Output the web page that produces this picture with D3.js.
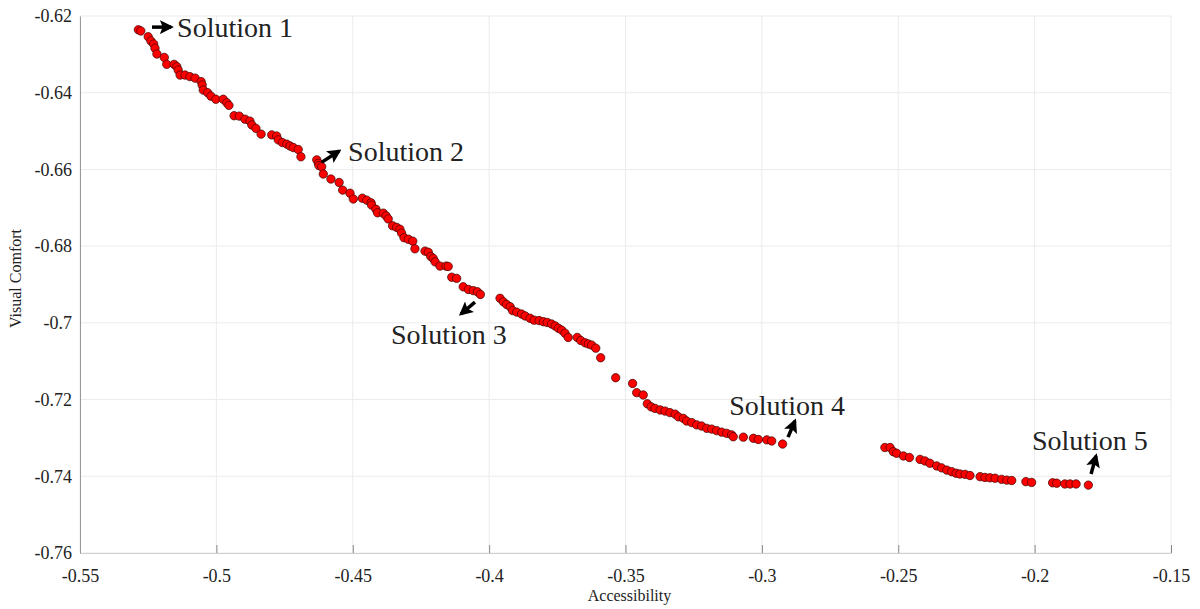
<!DOCTYPE html>
<html>
<head>
<meta charset="utf-8">
<script src="https://cdn.jsdelivr.net/npm/d3@7"></script>
<style>
  body { margin: 0; background: #fff; }
  text { font-family: "Liberation Serif", "Times New Roman", serif; fill: #222; }
</style>
</head>
<body>
<svg id="chart" width="1200" height="609"></svg>
<script>
// pareto front: accessibility (x) vs visual comfort (y)
var accessibility = [
  -0.5286,-0.5277,-0.5250,-0.5240,-0.5230,-0.5225,-0.5218,-0.5191,-0.5182,-0.5155,
  -0.5145,-0.5140,-0.5133,-0.5115,-0.5097,-0.5078,-0.5056,-0.5052,-0.5048,-0.5032,
  -0.5020,-0.5002,-0.4975,-0.4962,-0.4954,-0.4935,-0.4916,-0.4895,-0.4877,-0.4870,
  -0.4855,-0.4836,-0.4797,-0.4779,-0.4773,-0.4758,-0.4742,-0.4730,-0.4718,-0.4700,
  -0.4690,
  -0.4632,-0.4626,-0.4624,-0.4614,-0.4608,-0.4580,-0.4550,-0.4537,-0.4510,-0.4498,
  -0.4465,-0.4449,-0.4433,-0.4431,-0.4415,-0.4409,-0.4388,-0.4378,-0.4370,-0.4354,
  -0.4339,-0.4327,-0.4321,-0.4312,-0.4296,-0.4280,-0.4272,-0.4235,-0.4223,-0.4214,
  -0.4205,-0.4198,-0.4180,-0.4158,-0.4150,-0.4137,-0.4119,-0.4095,-0.4076,-0.4058,
  -0.4043,-0.4032,
  -0.3960,-0.3948,-0.3936,-0.3923,-0.3914,-0.3899,-0.3881,-0.3868,-0.3850,-0.3835,
  -0.3817,-0.3801,-0.3787,-0.3771,-0.3758,-0.3746,-0.3734,-0.3722,-0.3710,-0.3677,
  -0.3664,-0.3648,-0.3636,-0.3624,-0.3609,-0.3591,
  -0.3536,-0.3474,-0.3459,-0.3435,-0.3420,-0.3406,-0.3392,-0.3373,-0.3355,-0.3337,
  -0.3318,-0.3306,-0.3288,-0.3276,-0.3257,-0.3239,-0.3221,-0.3202,-0.3184,-0.3166,
  -0.3147,-0.3129,-0.3111,-0.3105,-0.3068,-0.3031,-0.3013,-0.2982,-0.2964,-0.2924,
  -0.2549,-0.2530,-0.2518,-0.2506,-0.2481,-0.2459,-0.2420,-0.2402,-0.2384,-0.2359,
  -0.2341,-0.2322,-0.2304,-0.2288,-0.2274,-0.2255,-0.2237,-0.2200,-0.2182,-0.2164,
  -0.2145,-0.2121,-0.2102,-0.2084,-0.2032,-0.2011,-0.1934,-0.1919,-0.1889,-0.1870,
  -0.1848,-0.1803
];
var visualComfort = [
  -0.6236,-0.6239,-0.6254,-0.6265,-0.6273,-0.6284,-0.6299,-0.6308,-0.6326,-0.6326,
  -0.6332,-0.6341,-0.6354,-0.6354,-0.6358,-0.6362,-0.6371,-0.6380,-0.6393,-0.6400,
  -0.6409,-0.6417,-0.6417,-0.6426,-0.6433,-0.6460,-0.6461,-0.6469,-0.6474,-0.6484,
  -0.6493,-0.6508,-0.6510,-0.6513,-0.6523,-0.6530,-0.6534,-0.6539,-0.6543,-0.6548,
  -0.6567,
  -0.6575,-0.6584,-0.6590,-0.6593,-0.6612,-0.6625,-0.6634,-0.6654,-0.6662,-0.6677,
  -0.6675,-0.6680,-0.6687,-0.6693,-0.6704,-0.6713,-0.6714,-0.6721,-0.6729,-0.6747,
  -0.6751,-0.6756,-0.6766,-0.6778,-0.6782,-0.6787,-0.6807,-0.6813,-0.6816,-0.6827,
  -0.6832,-0.6841,-0.6852,-0.6852,-0.6853,-0.6881,-0.6884,-0.6906,-0.6913,-0.6916,
  -0.6919,-0.6926,
  -0.6936,-0.6945,-0.6952,-0.6958,-0.6968,-0.6972,-0.6977,-0.6982,-0.6988,-0.6993,
  -0.6994,-0.6997,-0.6999,-0.7003,-0.7008,-0.7014,-0.7019,-0.7027,-0.7038,-0.7038,
  -0.7046,-0.7052,-0.7055,-0.7058,-0.7066,-0.7091,
  -0.7143,-0.7158,-0.7182,-0.7188,-0.7211,-0.7219,-0.7223,-0.7227,-0.7230,-0.7234,
  -0.7238,-0.7245,-0.7249,-0.7256,-0.7260,-0.7266,-0.7269,-0.7275,-0.7277,-0.7281,
  -0.7285,-0.7288,-0.7292,-0.7297,-0.7298,-0.7301,-0.7304,-0.7305,-0.7308,-0.7316,
  -0.7325,-0.7325,-0.7336,-0.7340,-0.7347,-0.7351,-0.7356,-0.7360,-0.7366,-0.7373,
  -0.7378,-0.7384,-0.7388,-0.7392,-0.7394,-0.7395,-0.7398,-0.7401,-0.7403,-0.7404,
  -0.7405,-0.7408,-0.7410,-0.7411,-0.7414,-0.7416,-0.7417,-0.7418,-0.7420,-0.7420,
  -0.7420,-0.7423
];

var xTicks = [-0.55, -0.5, -0.45, -0.4, -0.35, -0.3, -0.25, -0.2, -0.15];
var yTicks = [-0.62, -0.64, -0.66, -0.68, -0.7, -0.72, -0.74, -0.76];

// annotations: label, arrow tail, arrow head, text anchor (all in data units)
var solutionLabels = ["Solution 1", "Solution 2", "Solution 3", "Solution 4", "Solution 5"];
var arrowFrom = [[-0.5236,-0.6229],[-0.4613,-0.6581],[-0.4052,-0.6946],[-0.2904,-0.7298],[-0.1793,-0.7394]];
var arrowTo   = [[-0.5166,-0.6229],[-0.4550,-0.6552],[-0.4103,-0.6977],[-0.2879,-0.7256],[-0.1775,-0.7347]];
var labelAt   = [[-0.5144,-0.6255],[-0.4517,-0.6578],[-0.4360,-0.7055],[-0.3120,-0.7240],[-0.2010,-0.7331]];

var margin = {top: 16, right: 29, bottom: 56, left: 80};
var svg = d3.select("#chart");
var width = 1200 - margin.left - margin.right;
var height = 609 - margin.top - margin.bottom;

var x = d3.scaleLinear().domain([-0.55, -0.15]).range([0, width]);
var y = d3.scaleLinear().domain([-0.76, -0.62]).range([height, 0]);

var fmt = function(d) { return String(+d.toFixed(2)); };

var g = svg.append("g").attr("transform", "translate(" + margin.left + "," + margin.top + ")");

// grid
g.append("g").selectAll("line").data(xTicks).enter().append("line")
  .attr("x1", function(d) { return x(d); }).attr("x2", function(d) { return x(d); })
  .attr("y1", 0).attr("y2", height)
  .attr("stroke", "#ebebeb").attr("stroke-width", 1);
g.append("g").selectAll("line").data(yTicks).enter().append("line")
  .attr("y1", function(d) { return y(d); }).attr("y2", function(d) { return y(d); })
  .attr("x1", 0).attr("x2", width)
  .attr("stroke", "#ebebeb").attr("stroke-width", 1);

// axes
var xAxis = g.append("g").attr("transform", "translate(0," + height + ")")
  .call(d3.axisBottom(x).tickValues(xTicks).tickSize(-8).tickPadding(16).tickFormat(fmt));
xAxis.select(".domain").attr("stroke", "#d0d0d0");
xAxis.selectAll(".tick line").attr("stroke", "#888");
xAxis.selectAll("text").style("font-family", "Liberation Serif").style("font-size", "18px").attr("fill", "#222");

var yAxis = g.append("g")
  .call(d3.axisLeft(y).tickValues(yTicks).tickSize(0).tickPadding(8).tickFormat(fmt));
yAxis.select(".domain").attr("stroke", "#999");
yAxis.selectAll("text").style("font-family", "Liberation Serif").style("font-size", "18px").attr("fill", "#222");

// axis titles
svg.append("text").attr("x", margin.left + width / 2 + 4).attr("y", 601)
  .attr("text-anchor", "middle").style("font-size", "16px").text("Accessibility");
svg.append("text").attr("transform", "translate(21," + (margin.top + height / 2 - 6) + ") rotate(-90)")
  .attr("text-anchor", "middle").style("font-size", "16px").text("Visual Comfort");

// points
var points = accessibility.map(function(a, i) { return [a, visualComfort[i]]; });
g.append("g").selectAll("circle").data(points).enter().append("circle")
  .attr("cx", function(d) { return x(d[0]); })
  .attr("cy", function(d) { return y(d[1]); })
  .attr("r", 4.2)
  .attr("fill", "#ff0000")
  .attr("stroke", "#3a0000")
  .attr("stroke-width", 0.7);

// arrows + labels
svg.append("defs").append("marker")
  .attr("id", "head").attr("viewBox", "0 0 10 10")
  .attr("refX", 8).attr("refY", 5)
  .attr("markerUnits", "userSpaceOnUse")
  .attr("markerWidth", 14).attr("markerHeight", 14)
  .attr("orient", "auto")
  .append("path").attr("d", "M0,0 L10,5 L0,10 L2,5 Z").attr("fill", "#000");

var ann = g.append("g");
solutionLabels.forEach(function(lbl, i) {
  ann.append("line")
    .attr("x1", x(arrowFrom[i][0])).attr("y1", y(arrowFrom[i][1]))
    .attr("x2", x(arrowTo[i][0])).attr("y2", y(arrowTo[i][1]))
    .attr("stroke", "#000").attr("stroke-width", 3.5)
    .attr("marker-end", "url(#head)");
  ann.append("text")
    .attr("x", x(labelAt[i][0])).attr("y", y(labelAt[i][1]))
    .style("font-size", "28px").attr("fill", "#111")
    .text(lbl);
});
</script>
</body>
</html>
